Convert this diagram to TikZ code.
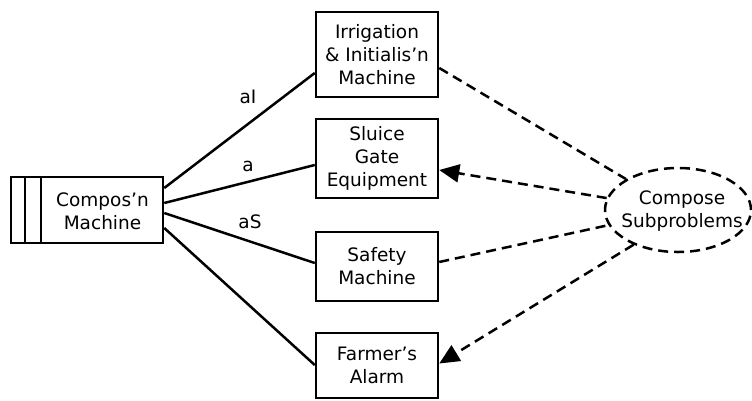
\documentclass[tikz,border=0pt]{standalone}
\usepackage{fontspec}
\setmainfont{DejaVu Sans}
\usetikzlibrary{arrows.meta,shapes.geometric,calc}
\begin{document}
\begin{tikzpicture}[x=1pt,y=-1pt,
  box/.style={draw, line width=2.5pt, inner sep=0pt, minimum width=122pt, align=center, font=\fontsize{18.5}{23}\selectfont},
  txt/.style={inner sep=0pt, align=center, font=\fontsize{18.5}{23}\selectfont},
  conn/.style={line width=2.5pt},
  dconn/.style={line width=2.5pt, dash pattern=on 10pt off 6pt},
  arr/.style={-{Triangle[length=20pt,width=18pt]}}]
\useasboundingbox (0,0) rectangle (752,400);
% composition machine
\node[box, minimum width=152pt, minimum height=66pt] (cm) at (87,210) {};
\draw[conn] ($(cm.north west)+(15,0)$) -- ($(cm.south west)+(15,0)$);
\draw[conn] ($(cm.north west)+(31,0)$) -- ($(cm.south west)+(31,0)$);
\node[txt] (cmt) at (102.5,211) {Compos’n\\Machine};
% domains
\node[box, minimum height=85pt] (irr) at (377,54.5) {Irrigation\\\& Initialis’n\\Machine};
\node[box, minimum height=79pt] (sl) at (377,158.5) {Sluice\\Gate\\Equipment};
\node[box, minimum height=69pt] (sf) at (377,266.5) {Safety\\Machine};
\node[box, minimum height=65pt] (fa) at (377,365.5) {Farmer’s\\Alarm};
% ellipse
\node[ellipse, draw, dconn, minimum width=146pt, minimum height=84pt, inner sep=0pt] (cs) at (678,210) {};
\node[txt] (cst) at (682,211) {Compose\\Subproblems};
% solid connectors
\draw[conn] ($(cm.east)+(0,-22)$) -- ($(irr.west)+(0,18.5)$);
\draw[conn] ($(cm.east)+(0,-7)$) -- ($(sl.west)+(0,6.5)$);
\draw[conn] ($(cm.east)+(0,3)$) -- ($(sf.west)+(0,-3.5)$);
\draw[conn] ($(cm.east)+(0,18)$) -- ($(fa.west)+(0,-0.5)$);
\node[txt] (laI) at (248,97) {aI};
\node[txt] (la) at (248,166) {a};
\node[txt] (laS) at (250,222) {aS};
% dashed connectors
\draw[dconn] ($(irr.east)+(0,13.5)$) -- (cs);
\draw[dconn, arr] (cs) -- ($(sl.east)+(0,11.5)$);
\draw[dconn] ($(sf.east)+(0,-4.5)$) -- (cs);
\draw[dconn, arr] (cs.218) -- ($(fa.east)+(0,-2)$);
\end{tikzpicture}
\end{document}
